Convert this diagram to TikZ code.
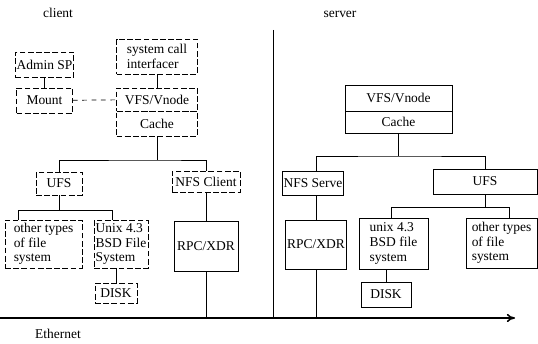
\documentclass[tikz,border=0pt]{standalone}
\usepackage{fontspec}
\setmainfont{Liberation Serif}
\usepackage{tikz}
\usetikzlibrary{arrows.meta, positioning}
\tikzset{
  nf-size/.style 2 args={minimum width=#1*0.03cm, minimum height=#2*0.03cm},
  nf-box/.style={
    rectangle, draw=black, line width=0.6pt, inner sep=1pt,
    align=center, font=\fontsize{11.5}{12.5}\selectfont
  },
  nf-cbox/.style={nf-box, dash pattern=on 5pt off 2pt},
  nf-text/.style={align=left},
  nf-link/.style={draw=black, line width=0.6pt},
  nf-link-dashed/.style={nf-link, dash pattern=on 4pt off 4pt},
  nf-eth/.style={-{To[length=7pt,width=7pt]}, draw=black, line width=1.3pt},
  nf-lbl/.style={font=\fontsize{11.5}{12.5}\selectfont},
}
\begin{document}
\begin{tikzpicture}[x=0.03cm, y=-0.03cm]
  \useasboundingbox (0,0) rectangle (538,344);

  \node[nf-lbl] (clientlbl) at (58,13) {client};
  \node[nf-lbl] (serverlbl) at (340,14) {server};

  % client side
  \node[nf-cbox, nf-size={57}{25}] (admin) at (44.5,64.5) {Admin SP};
  \node[nf-cbox, nf-size={56}{25}] (mount) at (44.5,100.5) {Mount};
  \node[nf-cbox, nf-size={81}{35}, nf-text] (sci) at (157,56.5) {system call\\interfacer};
  \node[nf-cbox, nf-size={81}{23}] (cvfs) at (157,99.5) {VFS/Vnode};
  \node[nf-cbox, nf-size={81}{25}] (ccache) at (157,123.5) {Cache};
  \node[nf-cbox, nf-size={46}{23}] (cufs) at (59,183.5) {UFS};
  \node[nf-cbox, nf-size={68}{21}] (cnfs) at (206,181.5) {NFS Client};
  \node[nf-cbox, nf-size={77}{48}, nf-text] (cother) at (43.5,244) {other types\\of file\\system};
  \node[nf-cbox, nf-size={54}{48}, nf-text] (cunix) at (121,244) {Unix 4.3\\BSD File\\System};
  \node[nf-cbox, nf-size={42}{20}] (cdisk) at (116,293) {DISK};
  \node[nf-box, nf-size={64}{50}] (crpc) at (206,246) {RPC/XDR};

  % server side
  \node[nf-box, nf-size={107}{26}] (svfs) at (398.5,98) {VFS/Vnode};
  \node[nf-box, nf-size={107}{22}] (scache) at (398.5,122) {Cache};
  \node[nf-box, nf-size={53}{24}] (snfs) at (313,183) {NFS Serve};
  \node[nf-box, nf-size={104}{25}] (sufs) at (485,181.5) {UFS};
  \node[nf-box, nf-size={61}{49}] (srpc) at (316,244.5) {RPC/XDR};
  \node[nf-box, nf-size={69}{51}, nf-text] (sunix) at (393.5,243.5) {unix 4.3\\BSD file\\system};
  \node[nf-box, nf-size={71}{50}, nf-text] (sother) at (501.5,243) {other types\\of file\\system};
  \node[nf-box, nf-size={50}{25}] (sdisk) at (386,294.5) {DISK};

  \coordinate (cbus) at (157,160);
  \coordinate (cbusl) at (18,210);
  \coordinate (cbusr) at (112,210);
  \coordinate (sbus) at (398.5,156);
  \coordinate (sbusl) at (391,207);
  \coordinate (sbusr) at (509,207);
  \coordinate (ethL) at (0,318);
  \coordinate (ethR) at (515,318);
  \coordinate (divtop) at (273,30);

  \draw[nf-link] (admin) -- (mount);
  \draw[nf-link] (sci) -- (cvfs);
  \draw[nf-link-dashed] (mount) -- (cvfs);
  \draw[nf-link] (ccache) -- (cbus);
  \draw[nf-link] (cufs.north) |- (cbus) -| (cnfs.north);
  \draw[nf-link] (cnfs) -- (crpc);
  \draw[nf-link] (cufs) -- (cufs |- cbusl);
  \draw[nf-link] (cother.north -| cbusl) -- (cbusl) -- (cbusr) -- (cbusr |- cunix.north);
  \draw[nf-link] (cdisk) -- (cdisk |- cunix.south);
  \draw[nf-link] (crpc) -- (crpc |- ethL);

  \draw[nf-link] (scache) -- (sbus);
  \draw[nf-link] (snfs.north -| srpc) |- (sbus) -| (sufs.north);
  \draw[nf-link] (snfs.south -| srpc) -- (srpc);
  \draw[nf-link] (sufs) -- (sufs |- sbusl);
  \draw[nf-link] (sunix.north -| sbusl) -- (sbusl) -- (sbusr) -- (sbusr |- sother.north);
  \draw[nf-link] (sdisk) -- (sdisk |- sunix.south);
  \draw[nf-link] (srpc) -- (srpc |- ethL);

  \draw[nf-link] (divtop) -- (divtop |- ethL);
  \draw[nf-eth] (ethL) -- (ethR);
  \node[nf-lbl] (ethlbl) at (58,334) {Ethernet};
\end{tikzpicture}
\end{document}
